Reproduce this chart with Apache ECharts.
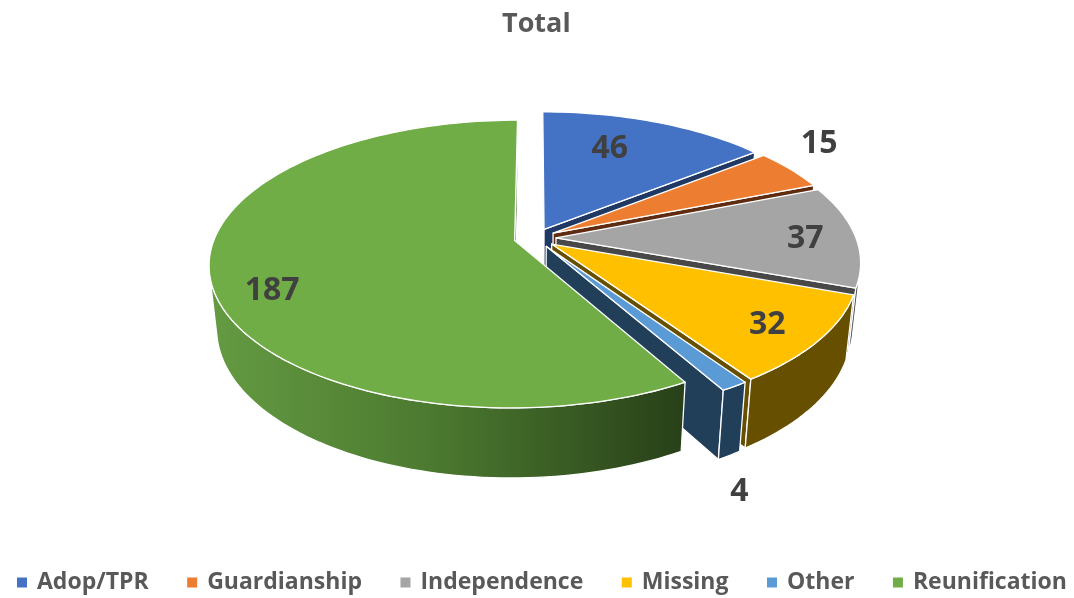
<!DOCTYPE html>
<html>
<head>
<meta charset="utf-8">
<style>html,body{margin:0;padding:0;background:#fff}#c{width:1074px;height:598px}</style>
<script src="https://cdn.jsdelivr.net/npm/echarts@6/dist/echarts.min.js"></script>
</head>
<body>
<div id="c"></div>
<script>
const categories = ['Adop/TPR','Guardianship','Independence','Missing','Other','Reunification'];
const values = [46,15,37,32,4,187];
const topColors = ['#4472c4','#ed7d31','#a5a5a5','#ffc000','#5b9bd5','#70ad47'];
const faceColors = ['#1f3864','#5f2c11','#484848','#665000','#223f59','#2b4519'];
const wallColors = ['#1f3864','#5f2c11','#484848','#665000','#223f59',null];
const labelRadius = [0.72,1.255,0.833,0.823,1.42,0.825];
const labelAngleShift = [-5.6,-6.6,0,0,11.8,-8];

// Projection of the tilted disk
const CX=535, CY=238, R=300, TILT=0.464, PERSP=0.163, DEPTH=64, SHRINK=0.023, EXPLODE=0.07;
const rad=d=>d*Math.PI/180;
function project(u,v,z){
  const w=1-PERSP*v+SHRINK*z;
  return [CX+R*u/w, CY+(R*TILT*v+DEPTH*z)/w];
}
const total=values.reduce((a,b)=>a+b,0);
const starts=[];let acc=0;
values.forEach(x=>{starts.push(acc/total*360);acc+=x;});

function sliceChildren(i,val){
  const a0=starts[i], a1=a0+val/total*360, mid=(a0+a1)/2;
  const ex=EXPLODE*Math.sin(rad(mid)), ey=-EXPLODE*Math.cos(rad(mid));
  const rim=(t,z)=>project(ex+Math.sin(rad(t)),ey-Math.cos(rad(t)),z);
  const apex=z=>project(ex,ey,z);
  const border={stroke:'#fff',lineWidth:1.3,lineJoin:'round'};
  const kids=[];
  const fill=wallColors[i]||new echarts.graphic.LinearGradient(215,0,690,0,[
    {offset:0,color:'#649a42'},{offset:0.45,color:'#4c7a30'},{offset:1,color:'#273f18'}],true);
  // radial faces
  [[a0,-1],[a1,1]].forEach(([t,sign])=>{
    const A=apex(0),B=rim(t,0);
    if(sign*(B[0]-A[0])>0){
      kids.push({type:'polygon',shape:{points:[A,B,rim(t,1),apex(1)]},style:{fill:faceColors[i],...border}});
    }
  });
  // outer wall: keep only the part of the arc that faces the viewer
  const steps=Math.max(8,Math.ceil((a1-a0)/1.5));
  let top=[],bot=[];
  for(let k=0;k<=steps;k++){
    const t=a0+(a1-a0)*k/steps;
    const p=rim(t,0),q=rim(t,1),n=rim(t+0.2,0);
    const cross=(n[0]-p[0])*(q[1]-p[1])-(n[1]-p[1])*(q[0]-p[0]);
    if(cross<0){top.push(p);bot.push(q);}
  }
  if(top.length>1){
    kids.push({type:'polygon',shape:{points:top.concat(bot.reverse())},style:{fill:fill,...border}});
  }
  // top face
  const pts=[apex(0)];
  for(let k=0;k<=steps;k++)pts.push(rim(a0+(a1-a0)*k/steps,0));
  kids.push({type:'polygon',shape:{points:pts},style:{fill:topColors[i],...border}});
  // value label
  const la=mid+labelAngleShift[i], lr=labelRadius[i];
  const lp=project(ex+lr*Math.sin(rad(la)),ey-lr*Math.cos(rad(la)),0);
  kids.push({type:'text',z2:100,x:lp[0],y:lp[1]+3,style:{text:String(val),fill:'#404040',
    font:'bold 32px "Open Sans", sans-serif',align:'center',verticalAlign:'middle'}});
  return kids;
}

const series=categories.map((name,i)=>({
  type:'custom',name,coordinateSystem:'none',animation:false,silent:true,
  itemStyle:{color:topColors[i]},
  data:[[values[i]]],
  renderItem:(params,api)=>({type:'group',children:sliceChildren(i,api.value(0))})
}));

const chart=echarts.init(document.getElementById('c'),null,{renderer:'canvas'});
chart.setOption({
  backgroundColor:'#fff',animation:false,
  title:{text:'Total',left:497,top:6,textStyle:{fontFamily:'Open Sans',fontSize:27,fontWeight:'bold',color:'#595959'}},
  legend:{data:categories,left:17,top:571,padding:0,icon:'rect',itemWidth:10,itemHeight:10,itemGap:38.5,
    textStyle:{fontFamily:'Open Sans',fontSize:23,fontWeight:'bold',color:'#595959',padding:[0,0,0,5]}},
  series
});
</script>
</body>
</html>
